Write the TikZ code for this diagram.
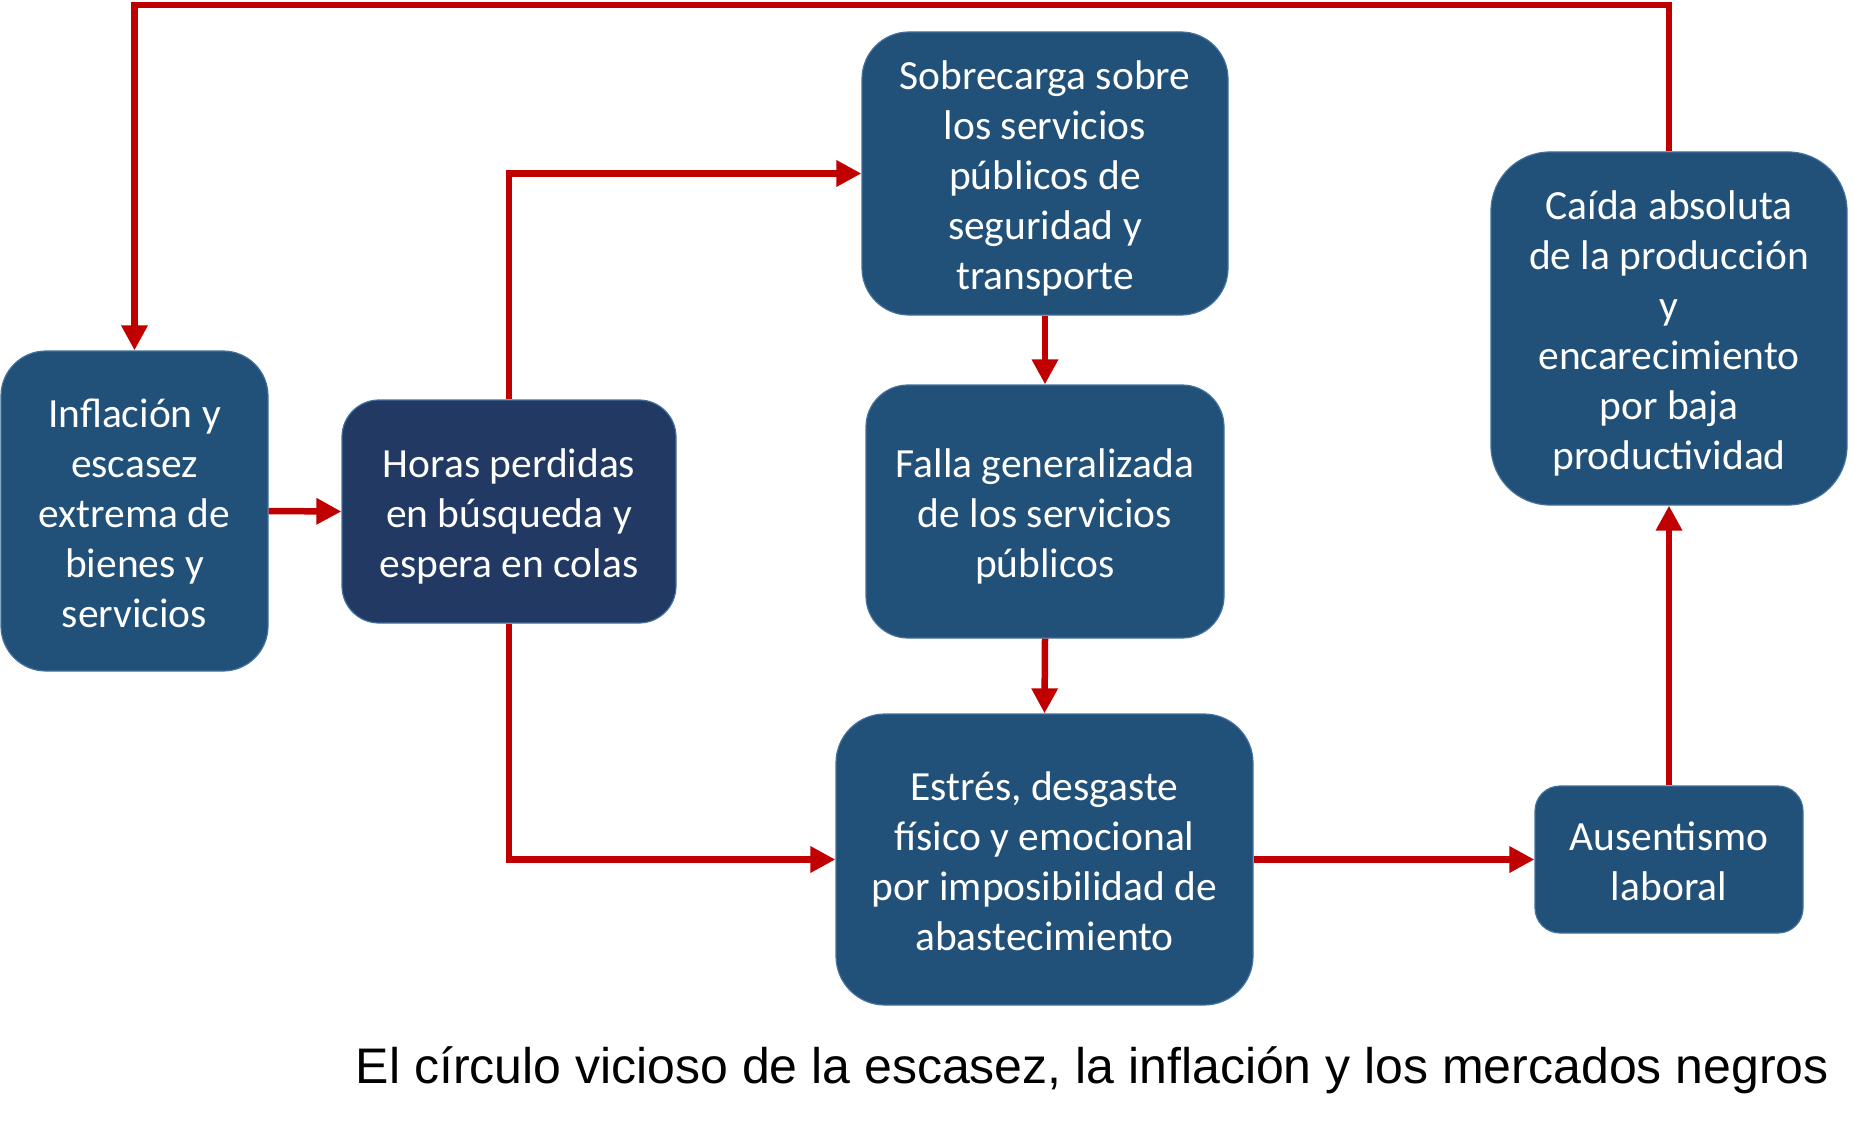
\documentclass[tikz,border=0pt]{standalone}
\usepackage{fontspec}
\setmainfont{Carlito}
\newfontfamily\capfont{Liberation Sans}
\usetikzlibrary{arrows.meta}
\definecolor{boxblue}{RGB}{33,80,121}
\definecolor{boxdark}{RGB}{33,57,99}
\definecolor{edgeblue}{RGB}{65,113,156}
\definecolor{arrred}{RGB}{192,0,0}
\newcommand{\bs}{\rule[-10pt]{0pt}{52pt}}
\newcommand{\be}{\rule[-10pt]{0pt}{10pt}}
\begin{document}
\begin{tikzpicture}[x=1pt,y=-1pt,
  box/.style={draw=edgeblue, line width=1.2pt, fill=boxblue, text=white, align=center,
    font=\fontsize{41.5}{50}\selectfont, inner sep=0pt},
  arr/.style={draw=arrred, line width=6.5pt, -{Triangle[length=25pt,width=25pt]}}]
\useasboundingbox (0,0) rectangle (1862,1126);
\node[box, minimum width=267pt, minimum height=320pt, rounded corners=45pt] (b1) at (134.5,511)
  {\bs Inflación y\\escasez\\extrema de\\bienes y\\servicios\be};
\node[box, fill=boxdark, minimum width=334pt, minimum height=223pt, rounded corners=37pt] (b2) at (509,511.5)
  {\bs Horas perdidas\\en búsqueda y\\espera en colas\be};
\node[box, minimum width=366pt, minimum height=283pt, rounded corners=47pt] (b3) at (1045,173.5)
  {\bs Sobrecarga sobre\\los servicios\\públicos de\\seguridad y\\transporte\be};
\node[box, minimum width=358pt, minimum height=253pt, rounded corners=42pt] (b4) at (1045,511.5)
  {\bs Falla generalizada\\de los servicios\\públicos\be};
\node[box, minimum width=417pt, minimum height=291pt, rounded corners=49pt] (b5) at (1044.5,859.5)
  {\bs Estrés, desgaste\\físico y emocional\\por imposibilidad de\\abastecimiento\be};
\node[box, minimum width=268pt, minimum height=147pt, rounded corners=25pt] (b6) at (1669,859.5)
  {\bs Ausentismo\\laboral\be};
\node[box, minimum width=356pt, minimum height=353pt, rounded corners=59pt] (b7) at (1669,328.5)
  {\bs Caída absoluta\\de la producción\\y\\encarecimiento\\por baja\\productividad\be};
\coordinate (top) at (0,5);
\draw[arr] (b7.north) |- (top -| b1.north) -- (b1.north);
\draw[arr] (b1.east) -- (b2.west);
\draw[arr] (b2.north) |- (b3.west);
\draw[arr] (b2.south) |- (b5.west);
\draw[arr] (b3.south) -- (b4.north);
\draw[arr] (b4.south) -- (b5.north);
\draw[arr] (b5.east) -- (b6.west);
\draw[arr] (b6.north) -- (b7.south);
\node[anchor=base east, inner sep=0pt, font=\capfont\fontsize{50}{60}\selectfont] (cap) at (1829,1083)
  {El círculo vicioso de la escasez, la inflación y los mercados negros};
\end{tikzpicture}
\end{document}
